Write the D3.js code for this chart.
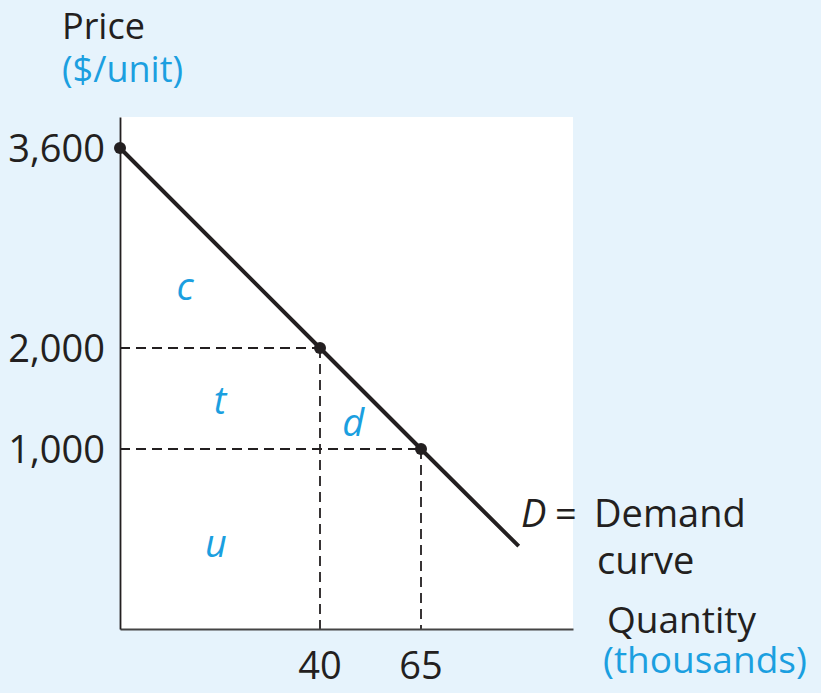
<!DOCTYPE html>
<html>
<head>
<meta charset="utf-8">
<script src="https://cdn.jsdelivr.net/npm/d3@7"></script>
<style>
  body { margin: 0; background: #e6f3fc; }
  svg { display: block; }
  text { font-family: "Open Sans", "Noto Sans", sans-serif; fill: #231f20; }
  .blue { fill: #1b9fe0; }
</style>
</head>
<body>
<svg id="chart"></svg>
<script>
// chart data
const priceTicks = [3600, 2000, 1000]
const quantityTicks = [40, 65]
// points on demand curve P = 3600 - 40Q
const demandQ = [0, 40, 65, 78.5]
const demandP = [3600, 2000, 1000, 460]
const marked = [[0, 3600], [40, 2000], [65, 1000]]
const areaLabels = [
  {name: "c", q: 13, p: 2490},
  {name: "t", q: 20, p: 1485},
  {name: "d", q: 48.2, p: 1267},
  {name: "u", q: 19.2, p: 478}
]

const width = 821
const height = 693

const svg = d3.select("#chart")
  .attr("width", width)
  .attr("height", height)

// schematic scales (textbook figure, not to scale)
const x = d3.scaleLinear()
  .domain([0, 40, 65, 86])
  .range([120, 320, 421, 573])
const y = d3.scaleLinear()
  .domain([0, 1000, 2000, 3600, 3850])
  .range([629, 449, 348, 148, 117])

// white plot area
svg.append("rect")
  .attr("x", x(0))
  .attr("y", y(3850))
  .attr("width", x(86) - x(0))
  .attr("height", y(0) - y(3850))
  .attr("fill", "#fff")

// dashed guides
const dash = svg.append("g")
  .attr("stroke", "#231f20")
  .attr("stroke-width", 1.8)
  .attr("stroke-dasharray", "10,6")
marked.slice(1).forEach(d => {
  dash.append("line")
    .attr("x1", x(0)).attr("x2", x(d[0]))
    .attr("y1", y(d[1])).attr("y2", y(d[1]))
  dash.append("line")
    .attr("x1", x(d[0])).attr("x2", x(d[0]))
    .attr("y1", y(d[1])).attr("y2", y(0))
})

// axes
svg.append("g")
  .attr("transform", "translate(0," + y(0) + ")")
  .call(d3.axisBottom(x).tickValues([]).tickSizeOuter(0))
  .select(".domain").attr("stroke", "#444").attr("stroke-width", 1.8)
svg.append("g")
  .attr("transform", "translate(" + x(0) + ",0)")
  .call(d3.axisLeft(y).tickValues([]).tickSizeOuter(0))
  .select(".domain").attr("stroke", "#231f20").attr("stroke-width", 1.8)

// tick labels
svg.selectAll(".ptick")
  .data(priceTicks)
  .enter().append("text")
    .attr("x", 105)
    .attr("y", d => y(d))
    .attr("dy", "0.36em")
    .attr("text-anchor", "end")
    .style("font-size", "38px")
    .text(d => d3.format(",")(d))
svg.selectAll(".qtick")
  .data(quantityTicks)
  .enter().append("text")
    .attr("x", d => x(d))
    .attr("y", 679)
    .attr("text-anchor", "middle")
    .style("font-size", "38px")
    .text(d => d)

// demand curve
const line = d3.line()
  .x(d => x(d[0]))
  .y(d => y(d[1]))
svg.append("path")
  .datum(d3.zip(demandQ, demandP))
  .attr("d", line)
  .attr("fill", "none")
  .attr("stroke", "#231f20")
  .attr("stroke-width", 4)

svg.selectAll(".dot")
  .data(marked)
  .enter().append("circle")
    .attr("cx", d => x(d[0]))
    .attr("cy", d => y(d[1]))
    .attr("r", 6)
    .attr("fill", "#231f20")

// area labels
svg.selectAll(".area-label")
  .data(areaLabels)
  .enter().append("text")
    .attr("class", "blue")
    .attr("x", d => x(d.q))
    .attr("y", d => y(d.p))
    .attr("dy", "0.36em")
    .attr("text-anchor", "middle")
    .style("font-size", "38px")
    .style("font-style", "italic")
    .text(d => d.name)

// axis titles
svg.append("text").attr("x", 62).attr("y", 39)
  .style("font-size", "36px").text("Price")
svg.append("text").attr("class", "blue").attr("x", 62).attr("y", 82)
  .style("font-size", "36px").text("($/unit)")

const dLabel = svg.append("text").attr("y", 527)
  .style("font-size", "38px")
dLabel.append("tspan").attr("x", 521).style("font-style", "italic").text("D")
dLabel.append("tspan").attr("x", 555).text("=")
dLabel.append("tspan").attr("x", 594).text("Demand")
svg.append("text").attr("x", 597).attr("y", 574)
  .style("font-size", "38px").text("curve")

svg.append("text").attr("x", 607).attr("y", 633)
  .style("font-size", "37px").text("Quantity")
svg.append("text").attr("class", "blue").attr("x", 603).attr("y", 673)
  .style("font-size", "37px").text("(thousands)")
</script>
</body>
</html>
